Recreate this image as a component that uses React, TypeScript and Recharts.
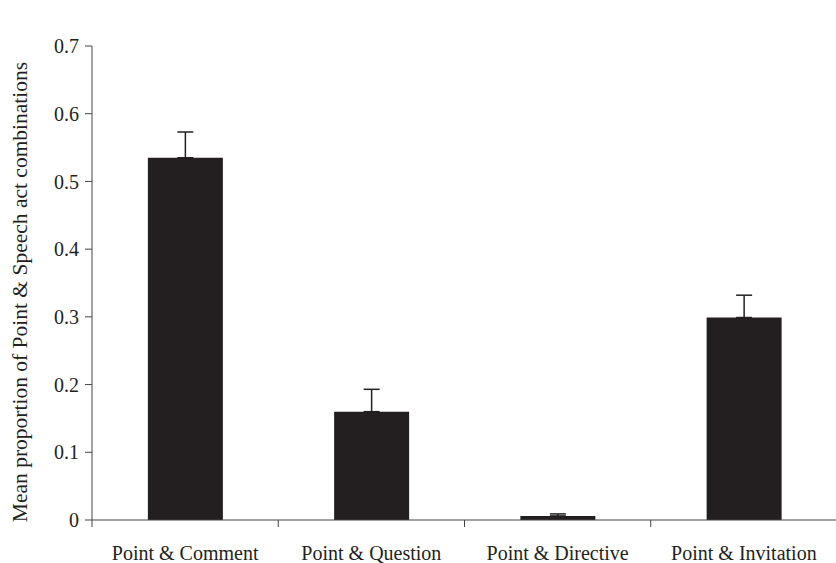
import { Bar, BarChart, ErrorBar, XAxis, YAxis, Label } from "recharts";

// categories and values
const categories = [
  "Point & Comment",
  "Point & Question",
  "Point & Directive",
  "Point & Invitation",
];
const means = [0.535, 0.16, 0.006, 0.299];
const upperErr = [0.038, 0.033, 0.003, 0.033];
const yTicks = [0, 0.1, 0.2, 0.3, 0.4, 0.5, 0.6, 0.7];
const boundaryTicks = [0, 1, 2, 3, 4];

const data = categories.map((name, i) => ({
  name,
  pos: i + 0.5,
  mean: means[i],
  err: [0, upperErr[i]],
}));

const font = "'Liberation Serif', 'DejaVu Serif', serif";
const axisColor = "#444";
const ink = "#231f20";
const yTitle = "Mean proportion of Point & Speech act combinations";

// rotated y title, a little below the middle of the plot like the original
function YTitle({ viewBox }: any) {
  const cx = 20;
  const cy = viewBox.y + viewBox.height / 2 + 9;
  return (
    <text
      x={cx}
      y={cy}
      transform={`rotate(-90, ${cx}, ${cy})`}
      textAnchor="middle"
      dominantBaseline="central"
      fill={ink}
      fontSize={21.5}
      fontFamily={font}
    >
      {yTitle}
    </text>
  );
}

export default function App() {
  return (
    <div style={{ position: "absolute", left: 0, top: 0, background: "#fff" }}>
      <BarChart
        width={837}
        height={563}
        data={data}
        margin={{ top: 46, right: 0, bottom: 0, left: 0 }}
        barCategoryGap="30%"
      >
        <XAxis
          xAxisId="b"
          dataKey="name"
          axisLine={false}
          tickLine={false}
          height={42}
          tickMargin={19}
          tick={{ fill: ink, fontSize: 20, fontFamily: font }}
          interval={0}
        />
        {/* category boundaries: ticks sit between the bars */}
        <XAxis
          xAxisId="a"
          dataKey="pos"
          type="number"
          domain={[0, 4]}
          ticks={boundaryTicks}
          tickFormatter={() => ""}
          height={1}
          stroke={axisColor}
          tickSize={7}
          allowDataOverflow
        />
        <YAxis
          width={92}
          domain={[0, 0.7]}
          ticks={yTicks}
          tickFormatter={(v: number) => (v === 0 ? "0" : v.toFixed(1))}
          stroke={axisColor}
          tickSize={7}
          tickMargin={6}
          tick={{ fill: ink, fontSize: 20, fontFamily: font }}
        >
          <Label content={YTitle} />
        </YAxis>
        <Bar xAxisId="b" dataKey="mean" fill={ink} isAnimationActive={false}>
          <ErrorBar
            dataKey="err"
            direction="y"
            width={8}
            stroke={ink}
            strokeWidth={1.5}
          />
        </Bar>
      </BarChart>
    </div>
  );
}
